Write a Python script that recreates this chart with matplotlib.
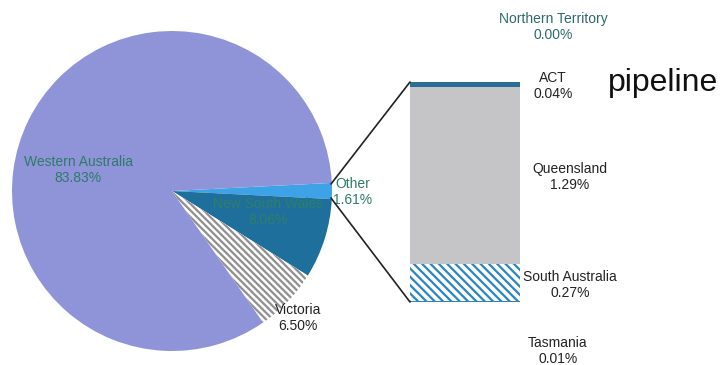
import matplotlib.pyplot as plt
from matplotlib.patches import ConnectionPatch

plt.rcParams["font.family"] = ["Liberation Sans", "DejaVu Sans"]
plt.rcParams["hatch.linewidth"] = 1.6

# pie data (clockwise from "Other")
pie_labels = ["Other", "New South Wales", "Victoria", "Western Australia"]
pie_values = [1.61, 8.06, 6.50, 83.83]

# breakdown of "Other", bottom to top
bar_labels = ["Tasmania", "South Australia", "Queensland", "ACT", "Northern Territory"]
bar_values = [0.01, 0.27, 1.29, 0.04, 0.00]

W, H = 725, 365
fig = plt.figure(figsize=(W / 100, H / 100), dpi=100)

# pie axes: centre (172, 191) px, radius 160 px
cx, cy, r = 172, 191, 160
ax1 = fig.add_axes([(cx - r) / W, (H - cy - r) / H, 2 * r / W, 2 * r / H])
pie_colors = ["#3ea3e6", "#1f6f9c", "white", "#8f94d8"]
wedges, _ = ax1.pie(pie_values, colors=pie_colors, startangle=2.9,
                    counterclock=False, radius=1,
                    wedgeprops=dict(linewidth=0))
wedges[2].set_hatch("\\\\\\\\\\")
wedges[2].set_edgecolor("#8f8f8f")
wedges[2].set_linewidth(0)
ax1.set_xlim(-1, 1)
ax1.set_ylim(-1, 1)
ax1.axis("off")

def px(x, y):
    # pixel position -> pie axes data coords
    return (x - cx) / r, (cy - y) / r

ax1.text(*px(78, 170), f"{pie_labels[3]}\n{pie_values[3]:.2f}%", ha="center",
         va="center", fontsize=10, color="#2e7a6a", linespacing=1.1)
ax1.text(*px(268, 212), f"{pie_labels[1]}\n{pie_values[1]:.2f}%", ha="center",
         va="center", fontsize=10, color="#2e7f6a", linespacing=1.1)
ax1.text(*px(298, 318), f"{pie_labels[2]}\n{pie_values[2]:.2f}%", ha="center",
         va="center", fontsize=10, color="#222222", linespacing=1.1)
ax1.text(*px(353, 192), f"{pie_labels[0]}\n{pie_values[0]:.2f}%", ha="center",
         va="center", fontsize=10, color="#2e7a6a", linespacing=1.1,
         clip_on=False)

# bar axes: x 410-520 px, y 82-302 px
bx0, bx1, by0, by1 = 410, 520, 82, 302
ax2 = fig.add_axes([bx0 / W, (H - by1) / H, (bx1 - bx0) / W, (by1 - by0) / H])
bar_colors = ["#2a85c0", "white", "#c5c5c7", "#2a6e96", "#2a6e96"]
bottom = 0
for lab, val, col in zip(bar_labels, bar_values, bar_colors):
    b = ax2.bar(0.5, val, width=1, bottom=bottom, color=col, linewidth=0)
    if lab == "South Australia":
        b[0].set_hatch("\\\\\\\\")
        b[0].set_edgecolor("#2a85c0")
    bottom += val
total = sum(bar_values)
ax2.set_xlim(0, 1)
ax2.set_ylim(0, total)
ax2.axis("off")

scale = (by1 - by0) / total
def bpx(x, y):
    return (x - bx0) / (bx1 - bx0), (by1 - y) / scale

label_pos = {"Northern Territory": (553, 27), "ACT": (553, 86),
             "Queensland": (570, 177), "South Australia": (570, 285),
             "Tasmania": (558, 351)}
label_col = {"Northern Territory": "#2e6a6a"}
for lab, val in zip(bar_labels, bar_values):
    ax2.text(*bpx(*label_pos[lab]), f"{lab}\n{val:.2f}%", ha="center",
             va="center", fontsize=10, linespacing=1.1,
             color=label_col.get(lab, "#222222"), clip_on=False)

ax2.text(*bpx(663, 83), "pipeline", ha="center", va="center", fontsize=23,
         color="#111111", clip_on=False)

# connection lines from "Other" wedge to the bar
for y_pie, y_bar in [(184, by0), (198, by1)]:
    con = ConnectionPatch(xyA=px(331, y_pie), coordsA=ax1.transData,
                          xyB=(0, (by1 - y_bar) / scale), coordsB=ax2.transData,
                          color="#222222", linewidth=1.2)
    fig.add_artist(con)

fig.savefig("out.png", dpi=100)
